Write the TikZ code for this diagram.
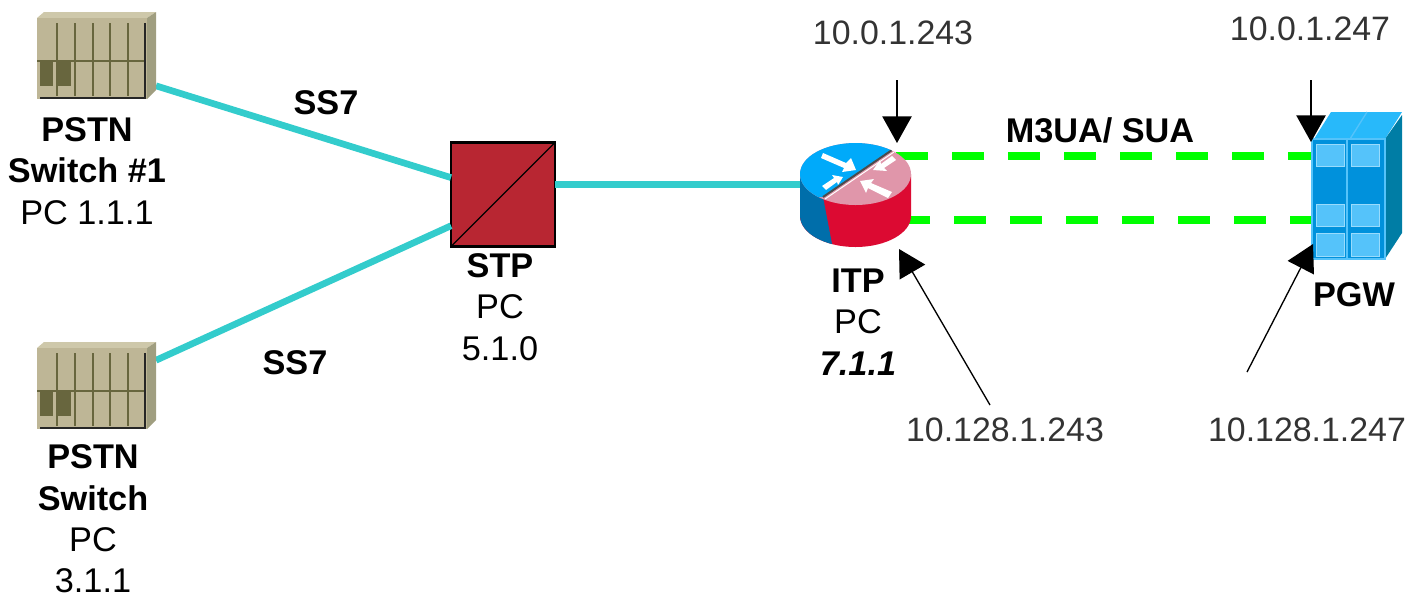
\documentclass[tikz,border=0pt]{standalone}
\usepackage{fontspec}
\setmainfont{Liberation Sans}
\usetikzlibrary{arrows.meta}
\definecolor{sevenline}{RGB}{51,204,204}
\definecolor{sigtran}{RGB}{0,255,0}
\definecolor{shelf}{RGB}{190,182,150}
\definecolor{shelftop}{RGB}{206,200,170}
\definecolor{shelfside}{RGB}{160,158,128}
\definecolor{shelfdark}{RGB}{104,102,62}
\definecolor{stpred}{RGB}{184,38,50}
\definecolor{itpblue}{RGB}{0,170,250}
\definecolor{itpdark}{RGB}{0,110,170}
\definecolor{itppink}{RGB}{224,150,170}
\definecolor{itpred}{RGB}{220,10,50}
\definecolor{pgwmain}{RGB}{0,145,220}
\definecolor{pgwlight}{RGB}{85,195,250}
\definecolor{pgwtop}{RGB}{40,185,250}
\definecolor{pgwside}{RGB}{0,125,165}
\tikzset{
  txt/.style={inner sep=0.75pt,align=center,font=\fontsize{25.4}{31}\selectfont,text=black!80},
  txtb/.style={txt,font=\fontsize{25.7}{31}\selectfont\bfseries,text=black},
  ss7line/.style={color=sevenline,line width=5},
  m3ualine/.style={color=sigtran,line width=5.5,dash pattern=on 24 off 18},
  ptr/.style={line width=1,-{Triangle[length=20,width=22]}},
  devbox/.style={inner sep=0,outer sep=0}
}
\newcommand{\pstnshelf}[1]{%
  \begin{scope}[shift={(0,#1)}]
    \fill [shelftop] (37,18) -- (44,12) -- (156,12) -- (147,18) -- cycle ;
    \fill [shelfside] (147,18) -- (156,12) -- (156,90) -- (147,99) -- cycle ;
    \fill [shelf] (37,18) rectangle (147,99) ;
    \fill [shelfdark] (40,62) rectangle (53,86) ;
    \fill [shelfdark] (57,62) rectangle (71,86) ;
    \foreach \x in {57,75,93,110,128}
      \draw [shelfdark,line width=1.8] (\x,23) -- (\x,96) ;
    \draw [shelfdark,line width=1.8] (37,61) -- (145,61) ;
    \draw [black!85,line width=1.8] (145,23) -- (145,98) -- (40,98) ;
  \end{scope}}
\begin{document}
\begin{tikzpicture}[x=0.75pt,y=0.75pt,yscale=-1,xscale=1]
  \useasboundingbox (0,0) rectangle (1420,594);
  % Device nodes
  \node (sw1) at (96.5,55.5) [devbox,minimum width=89.25,minimum height=65.25] {};
  \node (sw2) at (96.5,385.5) [devbox,minimum width=89.25,minimum height=65.25] {};
  \node (stp) at (503,194.5) [devbox,fill=stpred,draw=black,line width=2,minimum size=78] {};
  \node (itp) at (855.5,195) [devbox,minimum width=83.25,minimum height=78] {};
  \node (pgw) at (1348.5,199) [devbox,minimum width=54.75,minimum height=90] {};
  % Free ends of the links and pointers
  \coordinate (itpa) at (896,156);
  \coordinate (itpb) at (898,220);
  \coordinate (p243) at (897,80);
  \coordinate (p247) at (1311,80);
  \coordinate (q243) at (990,405);
  \coordinate (q247) at (1247,372);
  \coordinate (e243) at (897,143);
  \coordinate (e247) at (1311,142);
  \coordinate (f243) at (899,249);
  \coordinate (f247) at (1313,244);
  % Links
  \draw [ss7line] (sw1.-27) -- (stp.162.4) ;
  \draw [ss7line] (sw2.23) -- (stp.211) ;
  \draw [ss7line] (stp.east |- itp.169.8) -- (itp.169.8) ;
  \draw [m3ualine] (itpa) -- (pgw.west |- itpa) ;
  \draw [m3ualine] (itpb) -- (pgw.west |- itpb) ;
  % PSTN switches
  \pstnshelf{0}
  \pstnshelf{330}
  % STP
  \draw [black,line width=1] (stp.south west) -- (stp.north east) ;
  % ITP
  \fill [itpred] (800,174) -- (800,216) arc [start angle=180,end angle=0,x radius=55.5,y radius=31] -- (911,174) -- cycle ;
  \fill [itpdark] (800,174) -- (800,216) arc [start angle=180,end angle=115,x radius=55.5,y radius=31] -- (823,197) -- cycle ;
  \begin{scope}
    \clip (855.5,174) ellipse [x radius=55.5,y radius=31] ;
    \fill [itppink] (795,140) rectangle (915,210) ;
    \fill [itpblue] (823,197) -- (892,150) -- (892,140) -- (795,140) -- (795,197) -- cycle ;
    \draw [black!70,line width=1.5] (823,197) -- (892,150) ;
    \draw [white,line width=0.75] (825,199) -- (894,152) ;
    \fill [white] (823,153) -- (846,163) -- (851,158) -- (856,170) -- (842,172) -- (844,168) -- (821,158) -- cycle ;
    \fill [white] (822,186) -- (834,178) -- (832,175) -- (843,177) -- (838,185) -- (837,182) -- (826,190) -- cycle ;
    \fill [white] (892,192) -- (871,183) -- (874,179) -- (860,181) -- (866,193) -- (868,188) -- (888,198) -- cycle ;
    \fill [white] (896,160) -- (884,168) -- (887,171) -- (873,170) -- (880,160) -- (881,164) -- (892,156) -- cycle ;
  \end{scope}
  % PGW
  \fill [pgwtop] (1314,139) -- (1331,112) -- (1402,112) -- (1385,139) -- cycle ;
  \fill [pgwside] (1385,139) -- (1402,115) -- (1402,233) -- (1385,259) -- cycle ;
  \fill [pgwmain] (pgw.south west) rectangle (pgw.north east) ;
  \draw [pgwlight,line width=1] (pgw.south west) rectangle (pgw.north east) ;
  \draw [pgwlight,line width=1] (1347,139) -- (1347,259) ;
  \draw [pgwlight,line width=1] (1350,139) -- (1367,112) ;
  \foreach \x in {1316,1351}
    \foreach \ya/\yb in {144/166,204/226,233/256}
      \draw [draw=pgwlight!60!white,fill=pgwlight,line width=0.75] (\x,\ya) rectangle (\x+28,\yb) ;
  % Pointers
  \draw [ptr] (p243) -- (e243) ;
  \draw [ptr] (p247) -- (e247) ;
  \draw [ptr] (q243) -- (f243) ;
  \draw [ptr] (q247) -- (f247) ;
  % Text Node
  \node (ss7a) at (326,103) [txtb] {SS7};
  \node (ss7b) at (295,363) [txtb] {SS7};
  \node (sw1lab) at (87,171) [txtb] {PSTN\\Switch \#1\\\mdseries PC 1.1.1};
  \node (sw2lab) at (93,519) [txtb] {PSTN\\Switch\\\mdseries PC\\\mdseries 3.1.1};
  \node (stplab) at (500,307) [txtb] {STP\\\mdseries PC\\\mdseries 5.1.0};
  \node (itplab) at (858,322) [txtb] {ITP\\\mdseries PC\\\itshape 7.1.1};
  \node (pgwlab) at (1354,295) [txtb] {PGW};
  \node (m3ua) at (1100,130) [txtb] {M3UA/ SUA};
  \node (ip243) at (893,33) [txt] {10.0.1.243};
  \node (ip247) at (1310,29) [txt] {10.0.1.247};
  \node (ip243b) at (1005,430) [txt] {10.128.1.243};
  \node (ip247b) at (1307,430) [txt] {10.128.1.247};
\end{tikzpicture}
\end{document}
